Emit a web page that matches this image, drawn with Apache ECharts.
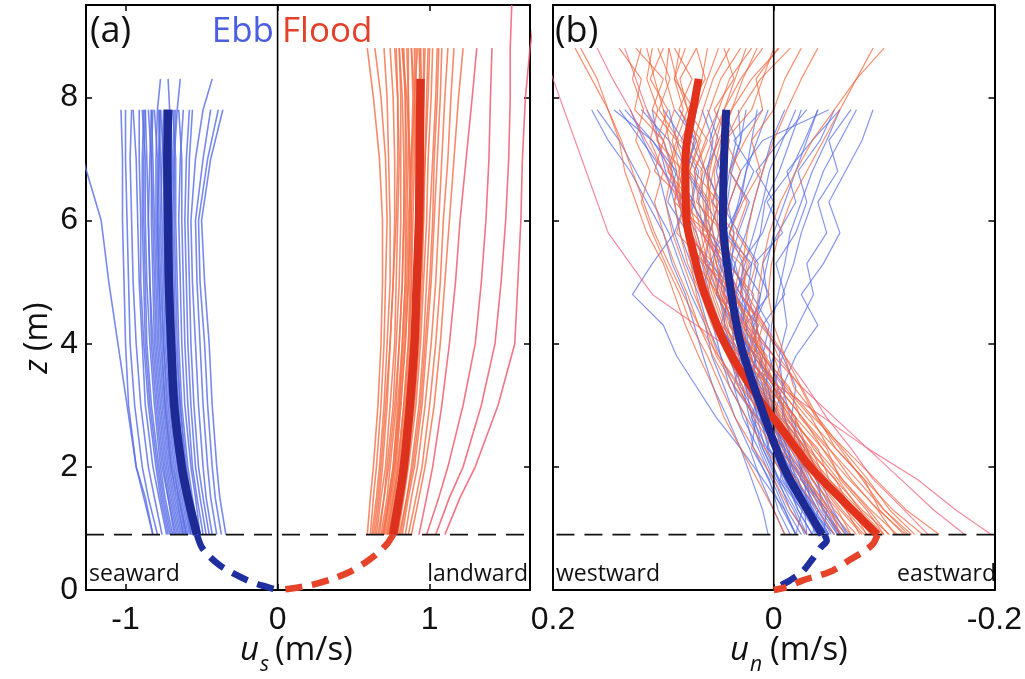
<!DOCTYPE html>
<html>
<head>
<meta charset="utf-8">
<script src="https://cdn.jsdelivr.net/npm/echarts@6/dist/echarts.min.js"></script>
<style>
html,body{margin:0;padding:0;background:#fff;}
#chart{width:1025px;height:679px;}
</style>
</head>
<body>
<div id="chart"></div>
<script>
// ---------------- DATA ----------------
// Panel (a): along-channel velocity u_s (m/s) vs height z (m)
const A_Z_EBB = [0.9, 1.5, 2, 3, 4, 5, 6, 7, 7.8];
const A_Z_EBB_TALL = [0.9, 1.5, 2, 3, 4, 5, 6, 7, 7.8, 8.3];
const A_Z_FLOOD = [0.9, 1.5, 2, 3, 4, 5, 6, 7, 8, 8.8];
const A_Z_FLOOD_TALL = [0.9, 1.5, 2, 3, 4, 5, 6, 7, 8, 8.8, 9.5];

const ebbA = [
  [-0.82,-0.88,-0.93,-0.98,-1.00,-1.01,-1.02,-1.02,-1.03],
  [-0.79,-0.85,-0.89,-0.94,-0.97,-0.98,-0.99,-1.00,-1.00],
  [-0.76,-0.81,-0.85,-0.90,-0.93,-0.95,-0.96,-0.97,-0.96],
  [-0.73,-0.78,-0.82,-0.87,-0.89,-0.91,-0.92,-0.93,-0.95],
  [-0.71,-0.76,-0.79,-0.84,-0.87,-0.88,-0.89,-0.89,-0.88],
  [-0.69,-0.74,-0.77,-0.81,-0.84,-0.86,-0.87,-0.87,-0.89],
  [-0.67,-0.72,-0.75,-0.79,-0.82,-0.84,-0.85,-0.84,-0.83],
  [-0.65,-0.70,-0.73,-0.77,-0.80,-0.81,-0.82,-0.83,-0.85],
  [-0.63,-0.68,-0.71,-0.75,-0.78,-0.79,-0.80,-0.80,-0.79,-0.77],
  [-0.62,-0.66,-0.70,-0.74,-0.76,-0.78,-0.79,-0.79,-0.81],
  [-0.60,-0.65,-0.68,-0.72,-0.75,-0.76,-0.77,-0.76,-0.75],
  [-0.59,-0.63,-0.66,-0.70,-0.73,-0.74,-0.75,-0.75,-0.77],
  [-0.57,-0.61,-0.64,-0.68,-0.71,-0.72,-0.73,-0.72,-0.71,-0.72],
  [-0.56,-0.60,-0.63,-0.66,-0.69,-0.70,-0.71,-0.71,-0.73],
  [-0.54,-0.58,-0.61,-0.64,-0.67,-0.68,-0.69,-0.68,-0.66,-0.64],
  [-0.52,-0.56,-0.59,-0.63,-0.65,-0.66,-0.67,-0.67,-0.69],
  [-0.51,-0.54,-0.57,-0.61,-0.63,-0.64,-0.65,-0.64,-0.62],
  [-0.49,-0.53,-0.56,-0.59,-0.61,-0.62,-0.63,-0.63,-0.65],
  [-0.47,-0.51,-0.54,-0.57,-0.59,-0.60,-0.61,-0.60,-0.58],
  [-0.45,-0.49,-0.52,-0.55,-0.57,-0.58,-0.59,-0.58,-0.56],
  [-0.43,-0.47,-0.49,-0.52,-0.54,-0.56,-0.57,-0.54,-0.49,-0.43],
  [-0.40,-0.44,-0.46,-0.49,-0.51,-0.53,-0.54,-0.49,-0.44],
  [-0.37,-0.41,-0.43,-0.46,-0.48,-0.51,-0.52,-0.46,-0.39],
  [-0.34,-0.38,-0.40,-0.43,-0.45,-0.48,-0.50,-0.44,-0.36],
  [-0.82,-0.87,-0.93,-0.99,-1.05,-1.11,-1.16,-1.28,-1.36],
  [-0.68,-0.72,-0.76,-0.80,-0.83,-0.84,-0.85,-0.86,-0.87],
  [-0.61,-0.65,-0.69,-0.73,-0.75,-0.77,-0.78,-0.78,-0.78],
  [-0.55,-0.59,-0.62,-0.66,-0.68,-0.70,-0.70,-0.70,-0.70],
  [-0.66,-0.71,-0.74,-0.78,-0.81,-0.82,-0.83,-0.83,-0.82],
  [-0.64,-0.69,-0.72,-0.76,-0.79,-0.80,-0.81,-0.82,-0.83],
  [-0.62,-0.67,-0.70,-0.74,-0.77,-0.78,-0.79,-0.78,-0.77],
  [-0.60,-0.64,-0.67,-0.71,-0.74,-0.75,-0.76,-0.77,-0.78],
  [-0.58,-0.62,-0.65,-0.69,-0.72,-0.73,-0.73,-0.73,-0.72],
  [-0.57,-0.61,-0.64,-0.68,-0.70,-0.71,-0.72,-0.73,-0.74],
  [-0.55,-0.59,-0.62,-0.65,-0.68,-0.69,-0.70,-0.69,-0.68],
  [-0.53,-0.57,-0.60,-0.64,-0.66,-0.67,-0.68,-0.68,-0.67],
  [-0.70,-0.75,-0.78,-0.83,-0.86,-0.87,-0.88,-0.88,-0.87],
  [-0.72,-0.77,-0.80,-0.85,-0.88,-0.90,-0.90,-0.91,-0.91]
];

const floodA = [
  [0.59,0.61,0.63,0.66,0.68,0.69,0.69,0.67,0.63,0.59],
  [0.61,0.63,0.65,0.68,0.70,0.71,0.72,0.71,0.68,0.64],
  [0.62,0.65,0.67,0.70,0.72,0.74,0.74,0.73,0.72,0.70],
  [0.64,0.67,0.69,0.72,0.74,0.76,0.77,0.77,0.76,0.74],
  [0.65,0.68,0.71,0.74,0.77,0.78,0.79,0.80,0.79,0.77],
  [0.67,0.70,0.72,0.76,0.78,0.80,0.81,0.81,0.81,0.80],
  [0.68,0.72,0.74,0.78,0.80,0.82,0.83,0.84,0.84,0.83],
  [0.70,0.73,0.76,0.80,0.82,0.84,0.85,0.86,0.86,0.86],
  [0.71,0.75,0.78,0.81,0.84,0.86,0.87,0.88,0.89,0.88],
  [0.73,0.77,0.79,0.83,0.86,0.88,0.89,0.90,0.91,0.91],
  [0.74,0.78,0.81,0.85,0.88,0.90,0.91,0.92,0.93,0.94],
  [0.76,0.80,0.83,0.87,0.90,0.92,0.93,0.95,0.96,0.97],
  [0.77,0.81,0.84,0.89,0.92,0.94,0.96,0.97,0.98,0.99],
  [0.79,0.83,0.86,0.91,0.94,0.96,0.98,0.99,1.01,1.02],
  [0.80,0.85,0.88,0.93,0.96,0.98,1.00,1.02,1.04,1.05],
  [0.82,0.86,0.90,0.95,0.98,1.01,1.03,1.05,1.07,1.08],
  [0.84,0.88,0.92,0.97,1.01,1.04,1.06,1.08,1.10,1.12],
  [0.86,0.91,0.95,1.00,1.04,1.07,1.09,1.12,1.14,1.16],
  [0.88,0.93,0.97,1.03,1.07,1.10,1.13,1.16,1.19,1.22],
  [0.93,0.98,1.02,1.08,1.13,1.17,1.20,1.24,1.28,1.31],
  [0.98,1.06,1.12,1.22,1.30,1.34,1.37,1.39,1.40,1.41],
  [1.04,1.13,1.22,1.34,1.43,1.47,1.50,1.52,1.53,1.53,1.54],
  [1.10,1.20,1.30,1.45,1.56,1.58,1.60,1.61,1.63,1.66,1.70],
  [0.69,0.74,0.77,0.80,0.83,0.85,0.86,0.88,0.90,0.92],
  [0.72,0.76,0.80,0.84,0.87,0.88,0.88,0.87,0.85,0.82],
  [0.75,0.79,0.82,0.86,0.89,0.91,0.93,0.94,0.94,0.93],
  [0.70,0.74,0.77,0.81,0.84,0.86,0.87,0.87,0.86,0.85],
  [0.72,0.76,0.79,0.83,0.86,0.87,0.88,0.89,0.90,0.90],
  [0.73,0.78,0.81,0.85,0.88,0.90,0.91,0.91,0.90,0.88],
  [0.75,0.80,0.83,0.87,0.90,0.92,0.94,0.95,0.96,0.96],
  [0.78,0.82,0.85,0.90,0.93,0.95,0.96,0.96,0.95,0.94],
  [0.66,0.70,0.73,0.77,0.80,0.82,0.83,0.83,0.82,0.80],
  [0.63,0.66,0.68,0.71,0.74,0.76,0.78,0.79,0.79,0.78],
  [0.81,0.85,0.89,0.94,0.97,1.00,1.02,1.03,1.05,1.06],
  [0.69,0.73,0.76,0.79,0.82,0.84,0.84,0.85,0.84,0.82],
  [0.76,0.81,0.84,0.88,0.91,0.93,0.95,0.97,0.99,1.00]
];
const floodA_pinkLines = [19, 20, 21, 22];

const ebbA_meanZ = [0.9, 1.5, 2, 3, 4, 5, 6, 7, 7.8];
const ebbA_meanU = [-0.53, -0.59, -0.63, -0.68, -0.70, -0.715, -0.72, -0.725, -0.72];
const floodA_meanZ = [0.9, 1.5, 2, 3, 4, 5, 6, 7, 8.3];
const floodA_meanU = [0.76, 0.80, 0.83, 0.87, 0.90, 0.915, 0.93, 0.935, 0.94];
const ebbA_extZ = [0.9, 0.7, 0.55, 0.4, 0.28, 0.16, 0.07, 0];
const ebbA_extU = [-0.53, -0.50, -0.45, -0.38, -0.30, -0.20, -0.10, 0];
const floodA_extZ = [0.9, 0.75, 0.6, 0.45, 0.3, 0.18, 0.08, 0.02, 0];
const floodA_extU = [0.76, 0.72, 0.66, 0.58, 0.48, 0.36, 0.22, 0.08, 0];

// Panel (b): cross-channel velocity u_n (m/s) vs height z (m)
const B_Z_EBB = [0.9,1.3,1.8,2.3,2.8,3.3,3.8,4.3,4.8,5.3,5.8,6.3,6.8,7.3,7.8];
const B_Z_FLOOD = [0.9,1.3,1.8,2.3,2.8,3.3,3.8,4.3,4.8,5.3,5.8,6.3,6.8,7.3,7.8,8.3,8.8];

const ebbB = [
  [-0.010,0.000,0.012,0.022,0.035,0.045,0.056,0.062,0.075,0.085,0.095,0.110,0.125,0.140,0.160],
  [-0.020,-0.008,0.005,0.018,0.025,0.040,0.048,0.060,0.068,0.080,0.090,0.098,0.105,0.118,0.130],
  [-0.030,-0.015,-0.004,0.010,0.022,0.028,0.042,0.050,0.058,0.065,0.080,0.072,0.090,0.100,0.115],
  [-0.035,-0.022,-0.012,0.004,0.012,0.026,0.030,0.044,0.050,0.062,0.058,0.075,0.070,0.088,0.095],
  [-0.040,-0.028,-0.010,-0.002,0.015,0.020,0.035,0.038,0.052,0.048,0.065,0.060,0.078,0.072,0.085],
  [-0.045,-0.030,-0.020,-0.005,0.005,0.018,0.025,0.040,0.036,0.050,0.055,0.068,0.062,0.075,0.070],
  [-0.050,-0.036,-0.018,-0.010,0.002,0.010,0.028,0.030,0.045,0.040,0.058,0.050,0.060,0.055,0.065],
  [-0.052,-0.040,-0.025,-0.008,-0.002,0.014,0.020,0.034,0.030,0.046,0.042,0.055,0.048,0.058,0.050],
  [-0.058,-0.042,-0.030,-0.015,0.000,0.005,0.022,0.025,0.040,0.035,0.050,0.045,0.052,0.045,0.040],
  [-0.060,-0.048,-0.028,-0.020,-0.005,0.008,0.012,0.028,0.025,0.038,0.036,0.042,0.038,0.030,0.032],
  [-0.065,-0.050,-0.035,-0.018,-0.010,0.000,0.015,0.018,0.030,0.028,0.040,0.030,0.025,0.020,0.015],
  [-0.030,-0.020,-0.005,0.008,0.015,0.030,0.036,0.045,0.042,0.055,0.050,0.045,0.040,0.030,0.025],
  [-0.025,-0.012,0.000,0.012,0.020,0.025,0.038,0.035,0.048,0.044,0.040,0.032,0.025,0.015,0.005],
  [-0.040,-0.025,-0.008,0.000,0.010,0.020,0.022,0.030,0.028,0.035,0.025,0.018,0.010,0.002,-0.010],
  [-0.048,-0.035,-0.022,-0.008,0.004,0.010,0.018,0.015,0.024,0.020,0.012,0.008,-0.005,-0.015,-0.025],
  [-0.055,-0.040,-0.025,-0.012,-0.004,0.006,0.008,0.016,0.012,0.006,0.000,-0.010,-0.020,-0.030,-0.040],
  [-0.062,-0.045,-0.032,-0.020,-0.010,-0.004,0.004,0.002,-0.004,-0.010,-0.015,-0.025,-0.035,-0.048,-0.060],
  [-0.068,-0.052,-0.038,-0.025,-0.015,-0.008,-0.005,-0.012,-0.008,-0.018,-0.025,-0.035,-0.045,-0.060,-0.075],
  [-0.035,-0.022,-0.010,0.005,0.012,0.018,0.028,0.024,0.034,0.026,0.018,0.010,0.004,-0.008,-0.020],
  [-0.020,-0.010,0.002,0.014,0.028,0.036,0.048,0.055,0.065,0.075,0.085,0.090,0.098,0.105,0.110],
  [-0.028,-0.018,-0.002,0.010,0.018,0.032,0.040,0.052,0.060,0.070,0.078,0.086,0.092,0.110,0.145],
  [-0.045,-0.032,-0.015,-0.002,0.008,0.015,0.032,0.030,0.042,0.038,0.048,0.040,0.030,0.010,-0.050],
  [-0.050,-0.038,-0.020,-0.012,0.000,-0.008,-0.020,-0.040,-0.025,-0.045,-0.060,-0.050,-0.065,-0.080,-0.090],
  [0.005,0.010,0.020,0.030,0.042,0.055,0.064,0.072,0.080,0.092,0.100,0.115,0.130,0.150,0.165],
  [-0.020,-0.026,-0.004,0.006,0.020,0.012,0.034,0.048,0.040,0.062,0.070,0.085,0.078,0.095,0.120],
  [-0.038,-0.030,-0.022,0.006,-0.002,0.020,0.016,0.036,0.052,0.046,0.060,0.074,0.068,0.082,0.100],
  [-0.055,-0.034,-0.030,-0.010,0.004,-0.004,0.018,0.030,0.022,0.040,0.032,0.048,0.062,0.050,0.060],
  [-0.045,-0.048,-0.026,-0.020,0.002,0.008,0.000,0.020,0.012,0.030,0.010,0.000,0.016,-0.006,-0.030],
  [-0.060,-0.044,-0.040,-0.018,-0.020,0.000,-0.008,0.010,-0.010,-0.002,-0.020,-0.030,-0.022,-0.042,-0.055],
  [-0.030,-0.028,-0.006,-0.010,0.014,0.024,0.016,0.040,0.032,0.058,0.046,0.062,0.080,0.070,0.090],
  [-0.050,-0.030,-0.028,-0.004,0.008,0.002,0.024,0.014,0.036,0.020,0.044,0.030,0.018,0.036,0.010],
  [-0.040,-0.036,-0.016,-0.014,0.006,0.016,0.010,0.026,0.004,0.018,-0.008,0.006,-0.015,-0.028,-0.040],
  [-0.066,-0.054,-0.042,-0.030,-0.016,-0.020,-0.008,-0.022,-0.036,-0.030,-0.048,-0.040,-0.058,-0.050,-0.070],
  [-0.015,-0.004,0.004,0.020,0.016,0.036,0.030,0.050,0.066,0.058,0.078,0.096,0.088,0.110,0.135],
  [-0.058,-0.046,-0.024,-0.028,-0.008,-0.010,0.010,0.004,0.020,0.014,0.032,0.022,0.040,0.034,0.045],
  [-0.035,-0.040,-0.018,-0.006,-0.002,0.012,0.024,0.018,0.006,0.010,-0.004,-0.020,-0.012,-0.035,-0.060],
  [-0.020,-0.010,0.010,0.030,0.052,0.070,0.088,0.100,0.128,0.110,0.090,0.080,0.100,0.120,0.140]
];

const floodB = [
  [-0.010,0.000,0.015,0.030,0.045,0.055,0.068,0.080,0.090,0.100,0.115,0.125,0.135,0.140,0.150,0.165,0.180],
  [-0.030,-0.015,0.000,0.018,0.035,0.048,0.060,0.075,0.085,0.098,0.110,0.120,0.112,0.125,0.118,0.128,0.120],
  [-0.045,-0.030,-0.012,0.008,0.025,0.040,0.055,0.068,0.078,0.090,0.100,0.108,0.100,0.112,0.105,0.115,0.110],
  [-0.055,-0.040,-0.020,0.000,0.018,0.032,0.050,0.060,0.072,0.082,0.092,0.098,0.092,0.100,0.090,0.098,0.095],
  [-0.065,-0.048,-0.028,-0.008,0.010,0.028,0.042,0.056,0.066,0.078,0.085,0.090,0.085,0.092,0.082,0.090,0.080],
  [-0.075,-0.055,-0.035,-0.015,0.004,0.022,0.040,0.050,0.062,0.072,0.080,0.086,0.080,0.088,0.078,0.085,0.070],
  [-0.082,-0.062,-0.040,-0.020,0.000,0.018,0.036,0.048,0.058,0.068,0.076,0.080,0.086,0.078,0.074,0.065,0.060],
  [-0.090,-0.068,-0.045,-0.025,-0.004,0.015,0.032,0.046,0.056,0.064,0.072,0.078,0.084,0.076,0.070,0.060,0.050],
  [-0.098,-0.074,-0.050,-0.028,-0.008,0.012,0.030,0.044,0.054,0.062,0.070,0.076,0.080,0.072,0.064,0.055,0.040],
  [-0.105,-0.080,-0.055,-0.032,-0.012,0.008,0.026,0.040,0.050,0.060,0.066,0.072,0.076,0.068,0.058,0.048,0.030],
  [-0.112,-0.088,-0.062,-0.038,-0.016,0.004,0.022,0.036,0.048,0.056,0.064,0.068,0.072,0.062,0.050,0.040,0.020],
  [-0.120,-0.095,-0.068,-0.044,-0.020,0.000,0.018,0.032,0.044,0.052,0.060,0.064,0.066,0.056,0.045,0.030,0.010],
  [-0.125,-0.100,-0.075,-0.050,-0.026,-0.004,0.014,0.028,0.040,0.048,0.055,0.058,0.060,0.050,0.038,0.020,-0.005],
  [-0.135,-0.108,-0.082,-0.056,-0.030,-0.008,0.010,0.024,0.036,0.044,0.050,0.052,0.054,0.044,0.030,0.012,-0.015],
  [-0.150,-0.120,-0.092,-0.064,-0.036,-0.012,0.008,0.022,0.034,0.042,0.050,0.056,0.062,0.070,0.078,0.088,0.095],
  [-0.197,-0.165,-0.130,-0.085,-0.045,-0.005,0.030,0.070,0.110,0.130,0.150,0.160,0.170,0.180,0.190,0.200,0.210],
  [-0.173,-0.145,-0.115,-0.085,-0.055,-0.025,0.000,0.025,0.045,0.060,0.075,0.085,0.095,0.105,0.115,0.125,0.135],
  [-0.128,-0.105,-0.085,-0.062,-0.040,-0.025,-0.010,0.000,0.005,0.002,-0.005,-0.015,-0.030,-0.045,-0.060,-0.075,-0.090],
  [-0.085,-0.065,-0.045,-0.028,-0.012,0.000,0.012,0.020,0.025,0.028,0.024,0.018,0.010,0.000,-0.012,-0.025,-0.040],
  [-0.100,-0.078,-0.058,-0.036,-0.018,-0.002,0.010,0.016,0.014,0.010,0.004,-0.006,-0.020,-0.035,-0.055,-0.075,-0.100],
  [-0.070,-0.050,-0.030,-0.012,0.008,0.030,0.050,0.068,0.082,0.095,0.108,0.118,0.128,0.138,0.150,0.160,0.175],
  [-0.060,-0.045,-0.025,-0.005,0.015,0.035,0.052,0.062,0.070,0.075,0.080,0.084,0.088,0.095,0.100,0.108,0.115],
  [-0.080,-0.060,-0.038,-0.018,0.002,0.020,0.034,0.042,0.050,0.056,0.060,0.062,0.058,0.052,0.045,0.035,0.025],
  [-0.095,-0.072,-0.048,-0.026,-0.006,0.014,0.030,0.038,0.046,0.052,0.058,0.060,0.055,0.048,0.038,0.028,0.015],
  [-0.060,-0.052,-0.030,-0.020,0.010,0.024,0.020,0.048,0.060,0.054,0.080,0.074,0.096,0.088,0.110,0.100,0.125],
  [-0.088,-0.070,-0.056,-0.030,-0.020,0.006,0.022,0.014,0.040,0.052,0.046,0.070,0.064,0.084,0.072,0.090,0.085],
  [-0.110,-0.094,-0.070,-0.050,-0.034,-0.010,0.000,0.020,0.036,0.030,0.058,0.050,0.072,0.060,0.078,0.062,0.070],
  [-0.078,-0.066,-0.042,-0.030,-0.006,0.004,0.030,0.026,0.052,0.064,0.058,0.082,0.094,0.086,0.104,0.094,0.105],
  [-0.100,-0.084,-0.060,-0.048,-0.024,-0.014,0.010,0.026,0.018,0.042,0.036,0.056,0.048,0.040,0.054,0.036,0.045],
  [-0.118,-0.096,-0.082,-0.056,-0.040,-0.018,-0.010,0.012,0.030,0.024,0.046,0.040,0.030,0.044,0.020,0.010,0.000],
  [-0.070,-0.058,-0.034,-0.024,0.000,0.016,0.012,0.040,0.034,0.062,0.088,0.080,0.108,0.100,0.126,0.120,0.140],
  [-0.092,-0.078,-0.050,-0.040,-0.014,0.000,0.018,0.010,0.030,0.022,0.040,0.028,0.012,0.020,0.000,-0.010,-0.025],
  [-0.140,-0.118,-0.090,-0.070,-0.048,-0.030,-0.010,0.008,0.030,0.044,0.066,0.086,0.100,0.116,0.130,0.146,0.160],
  [-0.104,-0.086,-0.062,-0.044,-0.026,-0.004,0.016,0.034,0.050,0.070,0.060,0.090,0.082,0.106,0.096,0.112,0.100],
  [-0.084,-0.072,-0.046,-0.034,-0.010,0.010,0.006,0.030,0.046,0.040,0.064,0.058,0.076,0.066,0.086,0.074,0.090],
  [-0.122,-0.100,-0.080,-0.060,-0.038,-0.024,-0.004,0.008,0.024,0.016,0.034,0.024,0.040,0.026,0.010,0.016,-0.004]
];
const floodB_pinkLines = [15, 16, 32];

const ebbB_meanZ = [0.9, 1.5, 2, 3, 4, 5, 6, 7, 7.8];
const ebbB_meanU = [-0.044, -0.024, -0.009, 0.012, 0.030, 0.040, 0.046, 0.045, 0.043];
const floodB_meanZ = [0.9, 1.5, 2, 2.5, 3, 3.5, 4, 4.5, 5, 5.5, 6, 7, 8, 8.3];
const floodB_meanU = [-0.094, -0.060, -0.033, -0.012, 0.009, 0.028, 0.044, 0.056, 0.066, 0.073, 0.079, 0.080, 0.071, 0.068];
const ebbB_extZ = [0.9, 0.8, 0.7, 0.5, 0.3, 0.16, 0.05, 0];
const ebbB_extU = [-0.046, -0.048, -0.043, -0.035, -0.026, -0.015, -0.004, 0];
const floodB_extZ = [0.9, 0.75, 0.62, 0.49, 0.32, 0.24, 0.16, 0.05, 0];
const floodB_extU = [-0.094, -0.090, -0.081, -0.069, -0.054, -0.042, -0.027, -0.012, 0];

const xTicksA = [-1, 0, 1];
const xTicksB = [0.2, 0, -0.2];
const yTicks = [0, 2, 4, 6, 8];
const refZ = 0.9;   // dashed reference height

// ---------------- BUILD ----------------
function pairs(u, z) { return u.map((v, i) => [v, z[i]]); }
function pickZ(u, short, tall) { return u.length === short.length ? short : tall; }

const TICK_FONT = 'Liberation Sans';
const TEXT_FONT = 'Open Sans';

const series = [];
function thin(data, xi, yi, color, width, opacity) {
  series.push({
    type: 'line', xAxisIndex: xi, yAxisIndex: yi, data: data,
    showSymbol: false, silent: true, animation: false, clip: true,
    lineStyle: { color: color, width: width, opacity: opacity }
  });
}
function thick(data, xi, yi, color, width, dashed) {
  series.push({
    type: 'line', xAxisIndex: xi, yAxisIndex: yi, data: data, smooth: 0.3,
    showSymbol: false, silent: true, animation: false, clip: false,
    lineStyle: { color: color, width: width, type: dashed ? [17, 10] : 'solid', cap: 'butt' }
  });
}

// panel a thin
ebbA.forEach(u => thin(pairs(u, pickZ(u, A_Z_EBB, A_Z_EBB_TALL)), 0, 0, '#5a6fe6', 1.6, 0.82));
floodA.forEach((u, i) => thin(pairs(u, pickZ(u, A_Z_FLOOD, A_Z_FLOOD_TALL)), 0, 0,
  floodA_pinkLines.indexOf(i) >= 0 ? '#f0566a' : '#f4714a', 1.6, 0.82));
// panel b thin
ebbB.forEach(u => thin(pairs(u, B_Z_EBB), 2, 2, '#5a6ee6', 1.2, 0.72));
floodB.forEach((u, i) => thin(pairs(u, B_Z_FLOOD), 2, 2,
  floodB_pinkLines.indexOf(i) >= 0 ? '#f06078' : '#f2673f', 1.2, 0.72));

// reference lines
[[0, -1.26, 1.66], [2, -0.2, 0.2]].forEach(([xi, mn, mx]) => {
  series.push({ type: 'line', xAxisIndex: xi, yAxisIndex: xi, data: [[0, 0], [0, 9.5]], showSymbol: false, silent: true, animation: false,
    lineStyle: { color: '#000', width: 1.6 } });
  series.push({ type: 'line', xAxisIndex: xi, yAxisIndex: xi, data: [[mn, refZ], [mx, refZ]], showSymbol: false, silent: true, animation: false,
    lineStyle: { color: '#111', width: 1.6, type: [18, 10] } });
});

// means
thick(pairs(ebbA_meanU, ebbA_meanZ), 0, 0, '#1d2a93', 8.5, false);
thick(pairs(floodA_meanU, floodA_meanZ), 0, 0, '#dc321d', 8.5, false);
thick(pairs(ebbA_extU, ebbA_extZ), 0, 0, '#1f2fa0', 6.5, true);
thick(pairs(floodA_extU, floodA_extZ), 0, 0, '#e5432a', 6.5, true);
thick(pairs(floodB_meanU, floodB_meanZ), 2, 2, '#e2321b', 8, false);
thick(pairs(ebbB_meanU, ebbB_meanZ), 2, 2, '#1d2a93', 8, false);
thick(pairs(ebbB_extU, ebbB_extZ), 2, 2, '#1f2fa0', 6.5, true);
thick(pairs(floodB_extU, floodB_extZ), 2, 2, '#e5432a', 6.5, true);

function xAx(grid, mn, mx, ticks, pos, labels, inverse) {
  return {
    type: 'value', gridIndex: grid, min: mn, max: mx, position: pos, inverse: !!inverse,
    axisLine: { show: true, onZero: false, lineStyle: { color: '#000', width: 2 } },
    axisTick: { show: true, inside: true, length: 6, customValues: ticks, lineStyle: { color: '#000', width: 1.5 } },
    axisLabel: { show: labels, customValues: ticks, fontFamily: TICK_FONT, fontSize: 32, color: '#111', margin: 14 },
    splitLine: { show: false }
  };
}
function yAx(grid, pos, labels) {
  return {
    type: 'value', gridIndex: grid, min: 0, max: 9.5, position: pos,
    axisLine: { show: true, onZero: false, lineStyle: { color: '#000', width: 2 } },
    axisTick: { show: true, inside: true, length: 6, customValues: yTicks, lineStyle: { color: '#000', width: 1.5 } },
    axisLabel: { show: labels, customValues: yTicks, fontFamily: TICK_FONT, fontSize: 32, color: '#111', margin: 8 },
    splitLine: { show: false }
  };
}

const chart = echarts.init(document.getElementById('chart'), null, { renderer: 'canvas' });
function txt(text, x, y, size, color, align, vAlign, italic) {
  return {
    type: 'text', x: x, y: y, silent: true,
    style: { text: text, font: (italic ? 'italic ' : '') + size + 'px "' + TEXT_FONT + '"', fill: color,
      textAlign: align, textVerticalAlign: vAlign }
  };
}

chart.setOption({
  animation: false,
  backgroundColor: '#fff',
  grid: [
    { left: 86, top: 5, width: 444, height: 585, show: false },
    { left: 553, top: 5, width: 447, height: 585, show: false }
  ],
  xAxis: [
    xAx(0, -1.26, 1.66, xTicksA, 'bottom', true, false),
    xAx(0, -1.26, 1.66, xTicksA, 'top', false, false),
    xAx(1, -0.2, 0.2, xTicksB, 'bottom', true, true),
    xAx(1, -0.2, 0.2, xTicksB, 'top', false, true)
  ],
  yAxis: [
    yAx(0, 'left', true),
    yAx(0, 'right', false),
    yAx(1, 'left', false),
    yAx(1, 'right', false)
  ],
  series: series,
  graphic: [
    txt('(a)', 90, 32, 36, '#111', 'left', 'middle'),
    txt('Ebb', 274, 32, 35, '#4a5ee0', 'right', 'middle'),
    txt('Flood', 282, 32, 35, '#e2402a', 'left', 'middle'),
    txt('(b)', 555, 32, 36, '#111', 'left', 'middle'),
    txt('seaward', 89, 574, 23, '#111', 'left', 'middle'),
    txt('landward', 528, 574, 23, '#111', 'right', 'middle'),
    txt('westward', 556, 574, 23, '#111', 'left', 'middle'),
    txt('eastward', 996, 574, 23, '#111', 'right', 'middle'),
    txt('u', 240, 651, 33, '#111', 'left', 'middle', true),
    txt('s', 260, 665, 21, '#111', 'left', 'middle', true),
    txt('(m/s)', 275, 651, 33, '#111', 'left', 'middle'),
    txt('u', 730, 651, 33, '#111', 'left', 'middle', true),
    txt('n', 750, 665, 21, '#111', 'left', 'middle', true),
    txt('(m/s)', 770, 651, 33, '#111', 'left', 'middle'),
    {
      type: 'text', x: 38, y: 338, rotation: Math.PI / 2, silent: true,
      style: {
        text: '{i|z} (m)', font: '32px "' + TEXT_FONT + '"', fill: '#111',
        textAlign: 'center', textVerticalAlign: 'middle',
        rich: { i: { fontStyle: 'italic', fontFamily: TEXT_FONT, fontSize: 32, fill: '#111' } }
      }
    }
  ]
});
</script>
</body>
</html>
